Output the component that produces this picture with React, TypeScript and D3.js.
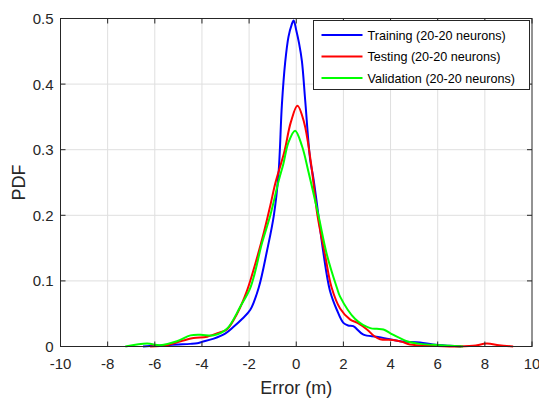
import React, { useEffect, useRef } from "react";
import * as d3 from "d3";

const trainX = [-6.5, -6, -5.5, -5, -4.5, -4.2, -4, -3.5, -3, -2.66, -2.3, -1.95, -1.59, -1.24, -0.95, -0.75, -0.61, -0.47, -0.33, -0.2, -0.11, 0.0, 0.12, 0.24, 0.38, 0.59, 0.73, 0.94, 1.15, 1.43, 1.72, 2.0, 2.2, 2.42, 2.85, 3.4, 3.84, 4.4, 5.25, 5.8, 6.5, 7];
const trainY = [0, 0.001, 0.002, 0.003, 0.004, 0.005, 0.007, 0.012, 0.02, 0.03, 0.042, 0.056, 0.09, 0.146, 0.2, 0.265, 0.368, 0.433, 0.472, 0.49, 0.497, 0.482, 0.462, 0.435, 0.375, 0.285, 0.256, 0.2, 0.143, 0.085, 0.056, 0.036, 0.032, 0.031, 0.018, 0.015, 0.012, 0.008, 0.006, 0.003, 0.001, 0];

const testX = [-6.2, -5.5, -4.9, -4.36, -3.78, -3.22, -2.94, -2.51, -2.08, -1.73, -1.38, -1.1, -0.88, -0.51, -0.23, 0.05, 0.33, 0.62, 0.9, 1.22, 1.5, 1.86, 2.29, 2.6, 3.0, 3.3, 3.56, 4.1, 4.5, 4.83, 5.8, 6.5, 7.5, 8.08, 8.6, 9.2];
const testY = [0, 0.002, 0.008, 0.013, 0.015, 0.022, 0.026, 0.05, 0.086, 0.127, 0.173, 0.215, 0.25, 0.296, 0.342, 0.367, 0.342, 0.281, 0.2, 0.14, 0.09, 0.058, 0.041, 0.036, 0.026, 0.016, 0.011, 0.01, 0.007, 0.003, 0.001, 0, 0.001, 0.0045, 0.002, 0];

const validX = [-7.25, -6.33, -5.76, -5.06, -4.49, -4.07, -3.5, -2.94, -2.37, -1.94, -1.45, -1.1, -0.75, -0.55, -0.33, -0.05, 0.24, 0.52, 0.94, 1.3, 1.72, 1.86, 2.5, 3.14, 3.42, 3.7, 4.1, 4.69, 5.25, 6.1, 7.08];
const validY = [0, 0.0045, 0.002, 0.008, 0.017, 0.018, 0.017, 0.027, 0.061, 0.09, 0.158, 0.2, 0.252, 0.278, 0.311, 0.329, 0.306, 0.266, 0.2, 0.14, 0.09, 0.076, 0.042, 0.028, 0.027, 0.026, 0.018, 0.008, 0.004, 0.002, 0];

const seriesNames = ["Training (20-20 neurons)", "Testing (20-20 neurons)", "Validation (20-20 neurons)"];
const seriesColors = ["#0000ff", "#ff0000", "#00ff00"];
const xTicks = [-10, -8, -6, -4, -2, 0, 2, 4, 6, 8, 10];
const yTicks = [0, 0.1, 0.2, 0.3, 0.4, 0.5];

const W = 539;
const H = 398;
const FONT = "'Liberation Sans', Arial, sans-serif";

export default function App() {
  const svgRef = useRef<SVGSVGElement>(null);

  useEffect(() => {
    const svg = d3.select(svgRef.current);
    svg.selectAll("*").remove();

    const x = d3.scaleLinear().domain([-10, 10]).range([60.5, 532]);
    const y = d3.scaleLinear().domain([0, 0.5]).range([346.5, 18.5]);
    const [x0, x1] = x.range();
    const [y0, y1] = y.range();

    svg.append("rect").attr("width", W).attr("height", H).attr("fill", "#fff");

    // grid
    const grid = svg.append("g").attr("stroke", "#dfdfdf").attr("stroke-width", 1);
    xTicks.slice(1, -1).forEach((t) => {
      grid.append("line").attr("x1", x(t)).attr("x2", x(t)).attr("y1", y0).attr("y2", y1);
    });
    yTicks.slice(1, -1).forEach((t) => {
      grid.append("line").attr("x1", x0).attr("x2", x1).attr("y1", y(t)).attr("y2", y(t));
    });

    // curves
    const line = d3
      .line<[number, number]>()
      .x((d) => x(d[0]))
      .y((d) => y(d[1]))
      .curve(d3.curveCatmullRom.alpha(0.5));

    const series = [
      d3.zip(trainX, trainY),
      d3.zip(testX, testY),
      d3.zip(validX, validY),
    ] as [number, number][][];

    series.forEach((s, i) => {
      svg
        .append("path")
        .attr("d", line(s))
        .attr("fill", "none")
        .attr("stroke", seriesColors[i])
        .attr("stroke-width", 2);
    });

    // axes box + ticks
    const ax = svg.append("g").attr("stroke", "#262626").attr("stroke-width", 1).attr("fill", "none");
    ax.append("rect").attr("x", x0).attr("y", y1).attr("width", x1 - x0).attr("height", y0 - y1);
    xTicks.forEach((t) => {
      ax.append("line").attr("x1", x(t)).attr("x2", x(t)).attr("y1", y0).attr("y2", y0 - 5);
      ax.append("line").attr("x1", x(t)).attr("x2", x(t)).attr("y1", y1).attr("y2", y1 + 5);
    });
    yTicks.forEach((t) => {
      ax.append("line").attr("x1", x0).attr("x2", x0 + 5).attr("y1", y(t)).attr("y2", y(t));
      ax.append("line").attr("x1", x1).attr("x2", x1 - 5).attr("y1", y(t)).attr("y2", y(t));
    });

    const labels = svg.append("g").attr("font-family", FONT).attr("fill", "#262626").attr("font-size", 15);
    xTicks.forEach((t) => {
      labels
        .append("text")
        .attr("x", x(t))
        .attr("y", y0 + 22.5)
        .attr("text-anchor", "middle")
        .text(String(t));
    });
    yTicks.forEach((t) => {
      labels
        .append("text")
        .attr("x", x0 - 7)
        .attr("y", y(t) + 5.5)
        .attr("text-anchor", "end")
        .text(String(t));
    });

    svg
      .append("text")
      .attr("x", (x0 + x1) / 2)
      .attr("y", 394)
      .attr("text-anchor", "middle")
      .attr("font-family", FONT)
      .attr("font-size", 18)
      .attr("fill", "#262626")
      .text("Error (m)");

    svg
      .append("text")
      .attr("transform", `translate(25, ${(y0 + y1) / 2}) rotate(-90)`)
      .attr("text-anchor", "middle")
      .attr("font-family", FONT)
      .attr("font-size", 18)
      .attr("fill", "#262626")
      .text("PDF");

    // legend
    const lg = svg.append("g").attr("transform", "translate(313.5, 20.5)");
    lg.append("rect")
      .attr("width", 216)
      .attr("height", 69)
      .attr("fill", "#fff")
      .attr("stroke", "#262626")
      .attr("stroke-width", 1);
    seriesNames.forEach((name, i) => {
      const yy = 14.5 + i * 21.5;
      lg.append("line")
        .attr("x1", 8)
        .attr("x2", 49)
        .attr("y1", yy)
        .attr("y2", yy)
        .attr("stroke", seriesColors[i])
        .attr("stroke-width", 2);
      lg.append("text")
        .attr("x", 54)
        .attr("y", yy + 4.5)
        .attr("font-family", FONT)
        .attr("font-size", 12.6)
        .attr("fill", "#000")
        .text(name);
    });
  }, []);

  return (
    <svg
      ref={svgRef}
      width={W}
      height={H}
      style={{ position: "absolute", left: 0, top: 0, display: "block" }}
    />
  );
}
